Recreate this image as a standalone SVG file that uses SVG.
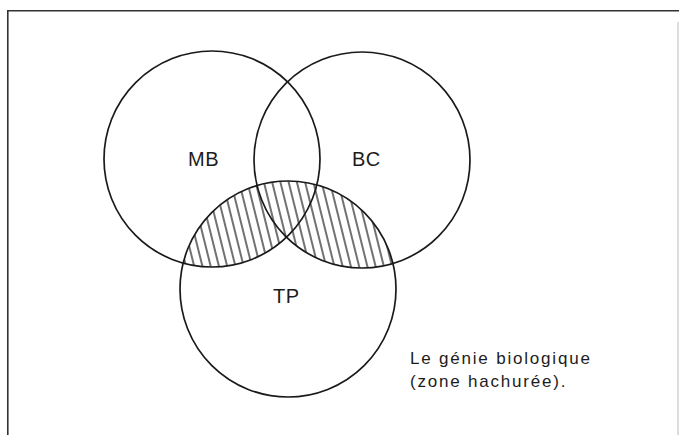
<svg xmlns="http://www.w3.org/2000/svg" width="679" height="435" viewBox="0 0 679 435">
  <style>
    .circle { fill: none; stroke: #1a1a1a; stroke-width: 1.7; }
    .label { font-family: "Liberation Sans", Arial, sans-serif; font-size: 20px; fill: #1c1c1c; letter-spacing: 0.5px; }
    .caption { font-family: "Liberation Sans", Arial, sans-serif; font-size: 17px; fill: #1c1c1c; letter-spacing: 1.8px; }
    .frame { fill: none; stroke: #333; stroke-width: 1.6; }
  </style>
  <defs>
    <pattern id="hatch" patternUnits="userSpaceOnUse" width="8" height="20" patternTransform="rotate(-14)">
      <line x1="4" y1="-2" x2="4" y2="22" stroke="#111" stroke-width="1.2"/>
    </pattern>
    <clipPath id="tpClip">
      <circle cx="288" cy="289" r="108"/>
    </clipPath>
    <clipPath id="mbbcClip">
      <circle cx="212" cy="159" r="108"/>
      <circle cx="362" cy="160" r="108"/>
    </clipPath>
  </defs>
  <rect width="679" height="435" fill="#ffffff"/>
  <g id="frame">
    <path class="frame" d="M7.8 435 V10.8 H679"/>
    <line x1="678" y1="22" x2="678" y2="435" stroke="#bbb" stroke-width="1"/>
  </g>
  <g id="hatched-zone" clip-path="url(#tpClip)">
    <rect x="170" y="170" width="240" height="110" fill="url(#hatch)" clip-path="url(#mbbcClip)"/>
  </g>
  <g id="MB">
    <circle class="circle" cx="212" cy="159" r="108"/>
    <text class="label" x="188" y="166">MB</text>
  </g>
  <g id="BC">
    <circle class="circle" cx="362" cy="160" r="108"/>
    <text class="label" x="352" y="166">BC</text>
  </g>
  <g id="TP">
    <circle class="circle" cx="288" cy="289" r="108"/>
    <text class="label" x="273" y="303">TP</text>
  </g>
  <g id="connectors"></g>
  <g id="caption">
    <text class="caption" x="410" y="364">Le génie biologique</text>
    <text class="caption" x="410" y="387">(zone hachurée).</text>
  </g>
</svg>
